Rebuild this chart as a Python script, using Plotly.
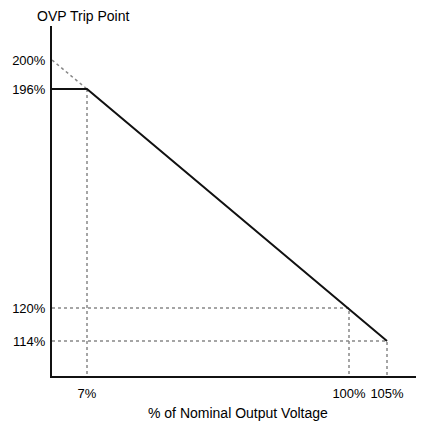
import plotly.graph_objects as go

# Schematic chart: tick labels and their positions along the (non-linear) diagram axes
x_labels = ["7%", "100%", "105%"]
x_pos = [35, 297, 335]
y_labels = ["200%", "196%", "120%", "114%"]
y_pos = [316, 287, 68, 35]

x_range = [0, 364]
y_range = [0, 350]

dot_color = "#888888"
fig = go.Figure()

# Dotted extension from 200% to knee
fig.add_trace(go.Scatter(x=[0, x_pos[0]], y=[y_pos[0], y_pos[1]], mode="lines",
                         line=dict(color=dot_color, width=1.5, dash="dot"), hoverinfo="skip"))
# Vertical dotted at 7%
fig.add_trace(go.Scatter(x=[x_pos[0], x_pos[0]], y=[y_pos[1], 0], mode="lines",
                         line=dict(color=dot_color, width=1.5, dash="dot"), hoverinfo="skip"))
# 120% guides
fig.add_trace(go.Scatter(x=[0, x_pos[1], x_pos[1]], y=[y_pos[2], y_pos[2], 0], mode="lines",
                         line=dict(color=dot_color, width=1.5, dash="dot"), hoverinfo="skip"))
# 114% guides
fig.add_trace(go.Scatter(x=[0, x_pos[2], x_pos[2]], y=[y_pos[3], y_pos[3], 0], mode="lines",
                         line=dict(color=dot_color, width=1.5, dash="dot"), hoverinfo="skip"))
# Solid characteristic
fig.add_trace(go.Scatter(x=[0, x_pos[0], x_pos[2]], y=[y_pos[1], y_pos[1], y_pos[3]], mode="lines",
                         line=dict(color="#111", width=2), hoverinfo="skip"))

font = dict(family="Liberation Sans, Arial, sans-serif", size=13, color="#000")
title_font = dict(family="Liberation Sans, Arial, sans-serif", size=14, color="#000")

W, H = 426, 431
l, r, t, b = 52, 10, 26, 55
pw, ph = W - l - r, H - t - b

fig.update_layout(
    width=W, height=H,
    margin=dict(l=l, r=r, t=t, b=b, autoexpand=False),
    paper_bgcolor="white", plot_bgcolor="white",
    showlegend=False,
    font=font,
    xaxis=dict(range=x_range, tickvals=x_pos, ticktext=x_labels, showgrid=False, zeroline=False,
               showline=True, linecolor="#111", linewidth=2, ticks="", ticklabelstandoff=4,
               automargin=False, fixedrange=True),
    yaxis=dict(range=y_range, tickvals=y_pos, ticktext=y_labels, showgrid=False, zeroline=False,
               showline=True, linecolor="#111", linewidth=2, ticks="", ticklabelstandoff=2,
               automargin=False, fixedrange=True),
)

def px_ann(text, px, py):
    fig.add_annotation(text=text, x=(px - l) / pw, y=(H - b - py) / ph, xref="paper", yref="paper",
                       showarrow=False, font=title_font, xanchor="center", yanchor="middle")

px_ann("OVP Trip Point", 83, 16)
px_ann("% of Nominal Output Voltage", 238, 413)

fig.write_html("out.html", config={"displayModeBar": False},
               post_script="document.body.style.margin='0';document.body.style.overflow='hidden';")
